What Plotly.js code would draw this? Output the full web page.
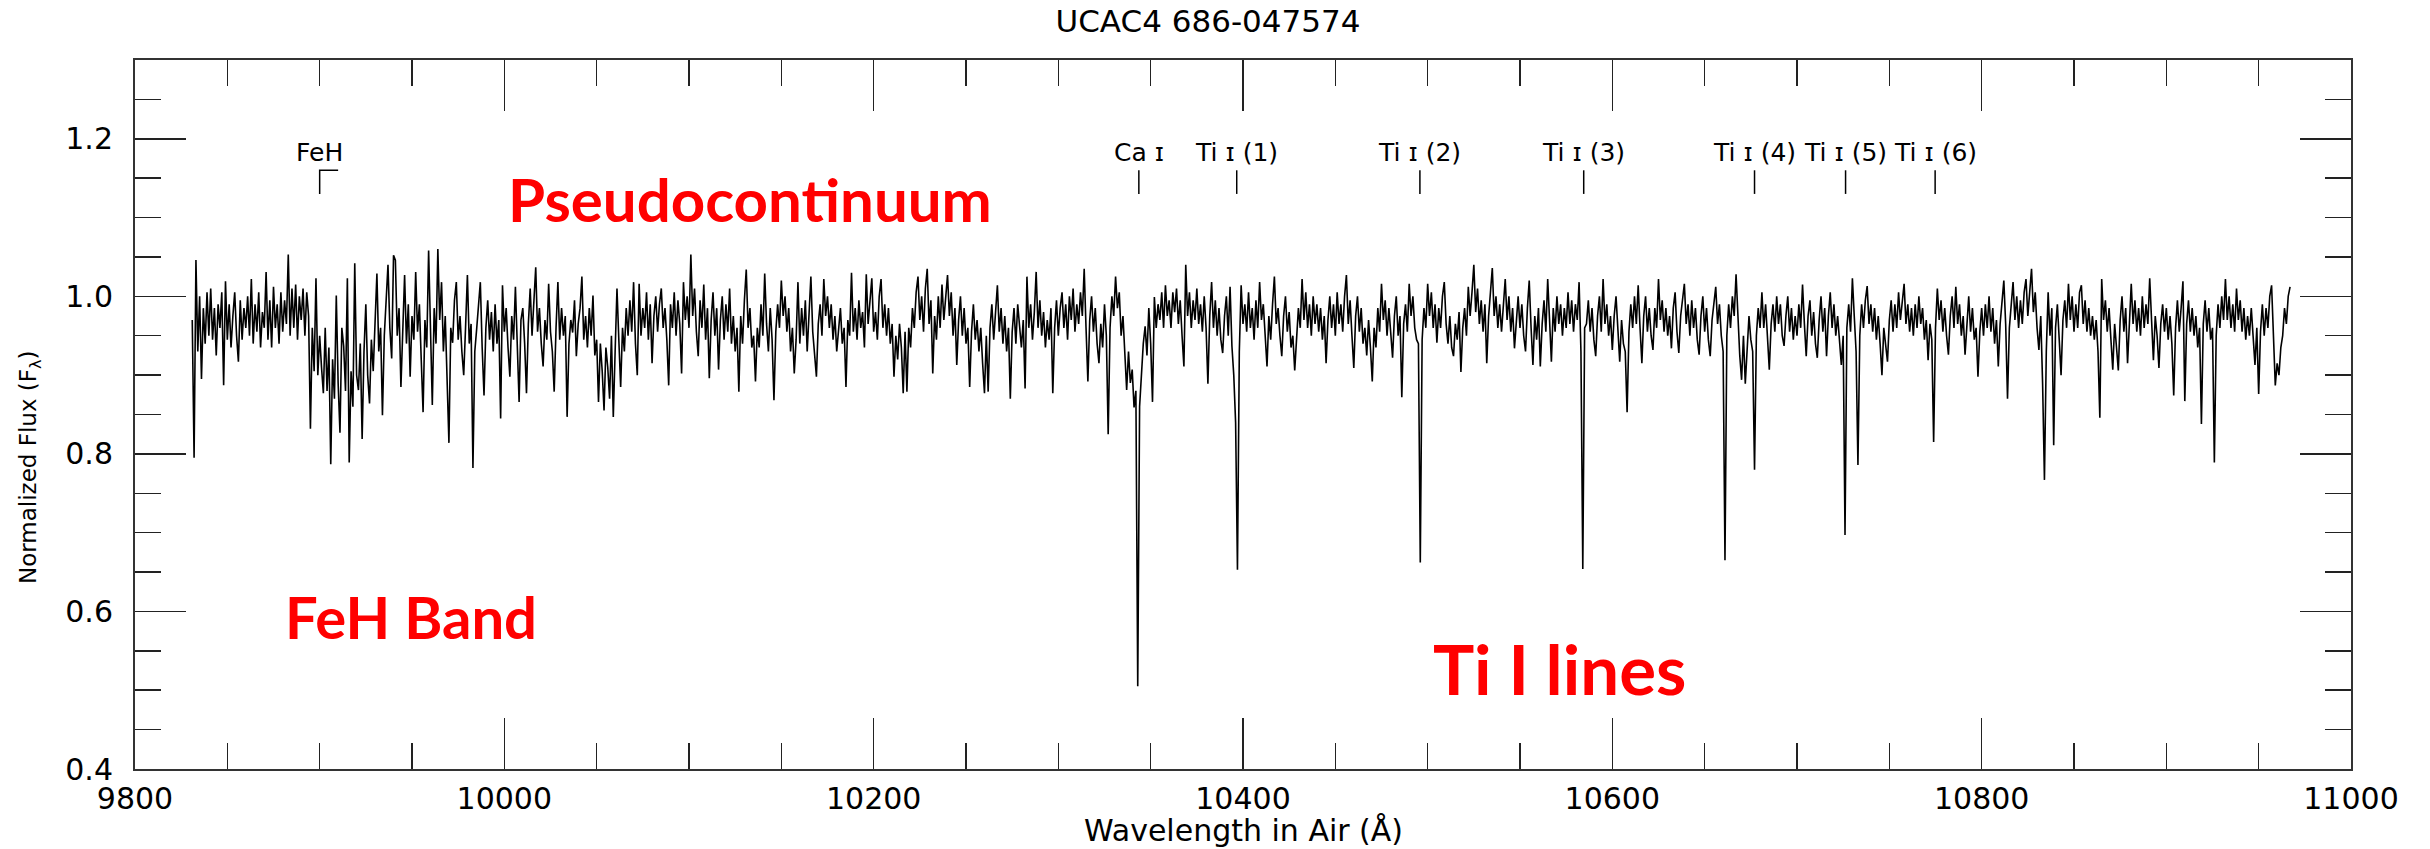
<!DOCTYPE html>
<html><head><meta charset="utf-8">
<script src="https://cdn.plot.ly/plotly-3.0.1.min.js"></script>
<style>html,body{margin:0;padding:0;background:#fff}#chart{width:2430px;height:849px}</style>
</head><body><div id="chart"></div>
<script>
// Normalized flux in thousandths, sampled every 1 Å; each segment starts at its own wavelength
const segStart = [9831, 9941, 10115, 10401, 10691];
const fluxA = [970,795,1046,930,1000,895,985,940,1005,950,
1010,945,985,925,990,960,1005,887,1019,945,
990,935,975,1005,950,917,995,945,985,960,
1000,950,1022,940,990,955,1005,935,980,960,
1031,945,995,935,1012,960,990,940,1005,955,
995,965,1053,950,1010,960,1015,945,1000,970,
1010,950,1005,975,832,960,905,1023,900,950,
910,877,960,880,935,787,920,870,1001,890,
827,960,937,880,1023,789,905,860,1042,900,
881,940,819,930,990,900,864,945,905,980,
1029,930,960,849,950,995,1040,960,921,1052];
const fluxB = [1046,950,985,885,960,1027,940,990,898,975,
945,1031,955,990,920,853,970,935,1058,960,
862,985,940,1060,970,1018,930,975,905,814,
960,941,995,1018,945,975,930,900,960,1027,
940,965,782,930,958,990,1018,935,874,960,
995,945,980,930,990,940,970,845,1014,955,
985,935,898,975,945,1012,930,866,970,985,
940,877,965,1010,950,990,1037,955,985,940,
911,970,945,1016,955,930,879,960,1018,945,
985,950,975,847,940,970,954,995,924,965,
985,1025,945,975,935,985,950,1001,925,945,
866,940,905,855,935,910,870,950,847,930,
1010,945,885,960,930,985,950,995,955,1018,
940,900,1016,950,985,960,1005,945,990,915,
975,1000,955,990,1010,960,985,945,887,990,
960,1005,950,995,965,902,1018,970,1000,960,
1053,975,1010,955,924,995,960,1015,945,985,
896,970,1005,950];
const fluxC = [985,907,970,1000,945,990,955,1010,940,975,
930,960,879,975,940,995,1034,960,985,935,
950,892,960,935,990,950,1029,965,930,985,
945,868,955,990,960,1020,975,1000,955,985,
930,960,902,945,1018,940,985,950,995,930,
975,1025,955,930,898,965,990,950,1022,975,
1000,960,990,945,975,930,960,985,940,960,
885,970,950,1030,955,985,945,995,960,980,
935,1028,965,990,1023,955,980,945,1000,1022,
960,990,950,985,940,965,898,950,920,965,
935,877,955,879,960,935,985,960,1005,1025,
970,1000,955,1010,1035,965,995,902,975,945,
1000,960,1015,970,995,1027,975,1005,950,985,
913,970,1000,950,985,940,960,885,955,990,
945,970,930,960,915,877,950,879,960,990,
945,975,1014,955,985,940,975,930,960,870,
955,985,940,990,960,935,970,883,1025,960,
990,945,980,1031,960,995,950,980,935,970,
945,985,877,960,995,950,985,1005,960,990,
945,1000,970,1010,955,990,965,1005,975,1035,
960,892,970,1000,955,985,940,915,965,935,
990,950,825,960,1000,975,1025,985,1005,950,
975,930,881,930,890,907,859,880,505,860,
902,940,962,925,985,940,866,999,960,990,
970,1005,960,1014,975,995,960,1005,980,1010,
965,995,950,911,1040,975,1005,960,995,970,
1010,965,990,955,1000,960,889,975,1018,960,
995,950,985,945,928,975,1000,950,1012,937,
900,840,653,930,1014,965];
const fluxD = [990,955,1005,960,985,945,995,960,1018,970,
990,950,911,975,945,990,1025,965,985,950,
924,975,1000,955,980,935,950,906,945,985,
960,1022,970,1005,960,990,950,1000,965,990,
955,985,945,975,915,970,1000,960,990,950,
1005,965,990,955,1000,1027,965,995,950,909,
975,1000,955,985,940,960,925,970,935,892,
960,935,985,955,1016,970,995,950,985,955,
922,975,1000,950,975,872,965,990,955,1016,
975,1000,960,945,940,662,945,985,960,1016,
975,1005,960,990,941,985,960,1000,1018,965,
940,975,935,924,965,945,980,904,960,985,
950,1012,975,1005,1040,980,1010,965,995,955,
990,915,975,1005,1036,975,1000,960,990,955,
985,1022,970,1000,955,985,934,975,1000,960,
990,950,930,985,1020,960,913,975,945,985,
911,965,995,955,1022,970,917,985,955,1000,
965,990,950,985,960,1005,965,995,955,990,
970,1018,930,654,960,965,995,955,985,945,
924,975,1000,955,1022,965,990,950,975,932,
975,1000,955,917,970,940,930,853,955,990,
960,1000,965,1014,960,915,975,1000,955,985,
950,932,985,960,1022,970,995,955,985,950,
975,934,985,1005,955,928,975,1000,1016,965,
990,950,995,960,985,945,926,975,1000,955,
985,945,924,970,995,1012,965,990,950,930,
665,950,990,960,1000,975,1028,965,925,894,
950,889,940,975,945,930,780,950,985,960,
1005,960,990,945,907,965,990,955,1000,965];
const fluxE = [990,950,937,975,1000,955,985,945,975,950,
990,960,1015,965,924,975,995,950,980,940,
922,970,1000,955,985,924,975,1005,960,990,
950,975,945,913,950,697,960,990,955,1023,
975,930,786,950,990,960,995,1013,965,990,
955,985,945,975,940,900,960,935,917,970,
995,955,990,960,1005,970,995,1016,965,990,
955,985,950,990,960,1000,965,985,945,970,
919,965,945,815,960,1010,970,995,955,985,
950,926,975,1000,960,1012,965,990,950,975,
926,970,1000,955,985,945,960,898,955,985,
950,990,960,1000,955,985,940,970,911,965,
995,1020,965,870,960,990,1018,970,1000,960,
995,965,1005,1022,975,1005,1035,980,1005,960,
932,975,889,767,930,1005,950,985,811,960,
990,945,900,970,995,960,1016,970,1000,955,
990,960,1005,1014,965,995,955,985,950,975,
945,970,930,846,1022,970,995,955,985,945,
907,965,940,906,970,1000,955,985,915,975,
1016,965,995,955,985,950,1000,960,990,965,
1023,970,919,975,950,909,965,990,955,985,
945,975,940,874,960,995,955,985,1019,867,
965,995,955,985,950,975,935,960,838,965,
995,955,985,945,960,789,950,990,960,1000,
970,1022,970,1000,960,990,955,1010,970,995,
955,985,945,975,950,985,940,913,960,876,
955,990,950,985,960,1000,1014,940,887,915,
900,935,950,985,965,1000,1012];

// Line identifications
const lineWave = [10343.6, 10396.6, 10495.8, 10584.5, 10677.0, 10726.3, 10774.8];
const lineLabel = ['Ca \u026A', 'Ti \u026A (1)', 'Ti \u026A (2)', 'Ti \u026A (3)', 'Ti \u026A (4)', 'Ti \u026A (5)', 'Ti \u026A (6)'];
const markLow = 1.13, markHigh = 1.16, labelY = 1.182;
const fehWave = [9900, 9910];
const fehLabel = 'FeH';

// Region labels
const regionText = ['Pseudocontinuum', 'FeH Band', 'Ti I lines'];
const regionX = [10133, 9949.5, 10571.6];
const regionY = [1.124, 0.594, 0.528];
const regionSize = [60, 58, 69];

const segs = [fluxA, fluxB, fluxC, fluxD, fluxE];
const wl = [], fl = [];
segs.forEach((s, k) => s.forEach((v, i) => { wl.push(segStart[k] + i); fl.push(v / 1000); }));

const mx = [], my = [];
lineWave.forEach(w => { mx.push(w, w, null); my.push(markLow, markHigh, null); });
mx.push(fehWave[0], fehWave[0], fehWave[1]); my.push(markLow, markHigh, markHigh);

const traces = [
  {x: wl, y: fl, type: 'scatter', mode: 'lines', line: {color: '#000', width: 1.6}, hoverinfo: 'skip'},
  {x: mx, y: my, type: 'scatter', mode: 'lines', line: {color: '#000', width: 1.5}, hoverinfo: 'skip'}
];

const F = 'DejaVu Sans';
const ann = [];
lineWave.forEach((w, i) => ann.push({x: w, y: labelY, xref: 'x', yref: 'y', text: lineLabel[i], showarrow: false,
  xanchor: 'center', yanchor: 'middle', font: {family: F, size: 25, color: '#000'}}));
ann.push({x: fehWave[0], y: labelY, xref: 'x', yref: 'y', text: fehLabel, showarrow: false,
  xanchor: 'center', yanchor: 'middle', font: {family: F, size: 25, color: '#000'}});
regionText.forEach((t, i) => ann.push({x: regionX[i], y: regionY[i], xref: 'x', yref: 'y', text: '<b>' + t + '</b>',
  showarrow: false, xanchor: 'center', yanchor: 'middle', font: {family: 'Lato', size: regionSize[i], color: '#ff0000'}}));
ann.push({x: (30 - 135) / 2216, y: (769 - 467) / 709, xref: 'paper', yref: 'paper', text: 'Normalized Flux (F<sub>λ</sub>)',
  textangle: -90, showarrow: false, xanchor: 'center', yanchor: 'middle', font: {family: F, size: 23, color: '#000'}});
ann.push({x: 0.5, y: (769 - 830) / 709, xref: 'paper', yref: 'paper', text: 'Wavelength in Air (Å)',
  showarrow: false, xanchor: 'center', yanchor: 'middle', font: {family: F, size: 30, color: '#000'}});

const axCommon = {showline: true, linecolor: '#333', linewidth: 2, mirror: 'allticks', ticks: 'inside',
  tickcolor: '#222', tickwidth: 1.5, ticklen: 51, showgrid: false, zeroline: false,
  tickfont: {family: F, size: 30, color: '#000'}};

const layout = {
  width: 2430, height: 849,
  margin: {l: 135, r: 79, t: 60, b: 80},
  paper_bgcolor: '#fff', plot_bgcolor: '#fff',
  font: {family: F, color: '#000'},
  showlegend: false,
  title: {text: 'UCAC4 686-047574', font: {family: F, size: 31, color: '#000'},
    x: 1208 / 2430, xref: 'container', xanchor: 'center', y: 1 - 21 / 849, yref: 'container', yanchor: 'middle'},
  xaxis: Object.assign({}, axCommon, {range: [9800, 11000], tick0: 9800, dtick: 200, tickformat: 'd', ticklabelstandoff: 2,
    minor: {dtick: 50, tick0: 9800, ticks: 'inside', ticklen: 26, tickwidth: 1.5, tickcolor: '#222', showgrid: false}}),
  yaxis: Object.assign({}, axCommon, {range: [0.4, 1.3], tick0: 0.4, dtick: 0.2, tickformat: '.1f', ticklabelstandoff: 14,
    minor: {dtick: 0.05, tick0: 0.4, ticks: 'inside', ticklen: 26, tickwidth: 1.5, tickcolor: '#222', showgrid: false}}),
  annotations: ann
};

Plotly.newPlot('chart', traces, layout, {staticPlot: true, displayModeBar: false});
</script>
</body></html>
